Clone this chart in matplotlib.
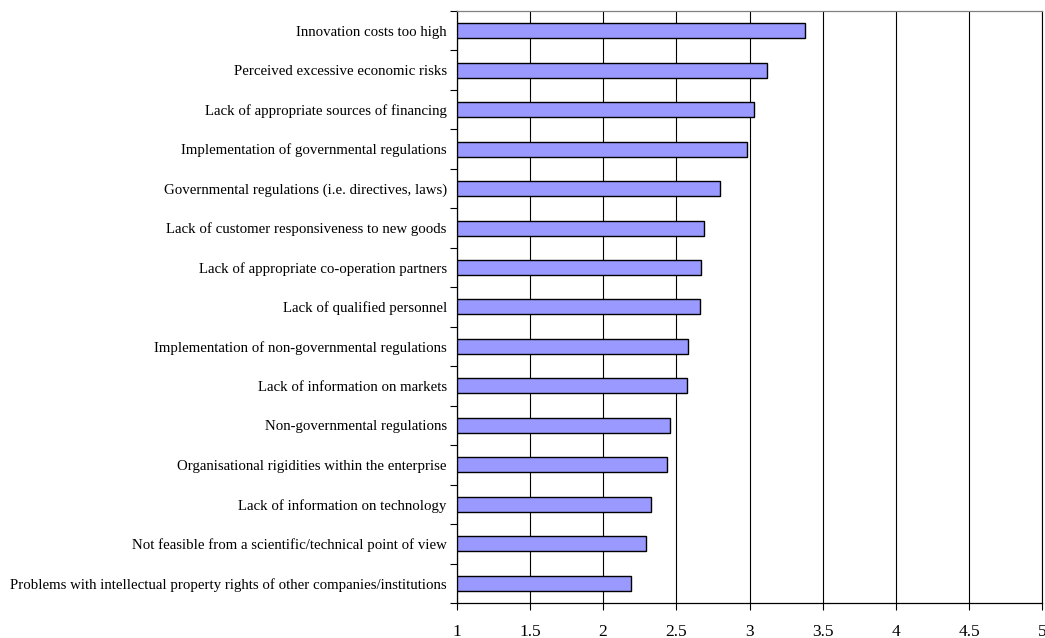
import matplotlib
matplotlib.use("Agg")
import matplotlib.pyplot as plt
import numpy as np

categories = [
    "Innovation costs too high",
    "Perceived excessive economic risks",
    "Lack of appropriate sources of financing",
    "Implementation of governmental regulations",
    "Governmental regulations (i.e. directives, laws)",
    "Lack of customer responsiveness to new goods",
    "Lack of appropriate co-operation partners",
    "Lack of qualified personnel",
    "Implementation of non-governmental regulations",
    "Lack of information on markets",
    "Non-governmental regulations",
    "Organisational rigidities within the enterprise",
    "Lack of information on technology",
    "Not feasible from a scientific/technical point of view",
    "Problems with intellectual property rights of other companies/institutions",
]
values = [3.38, 3.12, 3.03, 2.98, 2.80, 2.69, 2.67, 2.66, 2.58, 2.57,
          2.46, 2.44, 2.33, 2.29, 2.19]
x_ticks = [1, 1.5, 2, 2.5, 3, 3.5, 4, 4.5, 5]
x_tick_labels = ["1", "1.5", "2", "2.5", "3", "3.5", "4", "4.5", "5"]

plt.rcParams["font.family"] = ["Liberation Serif", "DejaVu Serif"]

fig = plt.figure(figsize=(10.45, 6.38), dpi=100)
ax = fig.add_axes([0.4369, 0.0549, 0.5607, 0.9279])

n = len(categories)
pos = np.arange(n)[::-1]
base = 1.0
ax.barh(pos, np.array(values) - base, left=base, height=0.38,
        color="#9999FF", edgecolor="black", linewidth=1.0, zorder=3)

ax.set_xlim(1, 5)
ax.set_ylim(-0.5, n - 0.5)

ax.set_xticks(x_ticks)
ax.set_xticklabels(x_tick_labels, fontsize=12.5)
ax.xaxis.grid(True, color="black", linewidth=0.8, zorder=0)
ax.set_axisbelow(True)

# category labels sit at bar centres, tick marks at the boundaries between them
ax.set_yticks(pos)
ax.set_yticklabels(categories, fontsize=10.7)
ax.tick_params(axis="y", which="major", length=0, pad=7)
ax.set_yticks(np.arange(-0.5, n, 1.0), minor=True)
ax.tick_params(axis="y", which="minor", length=5, width=0.8, direction="out")
ax.tick_params(axis="x", length=5, width=0.8, direction="out", pad=10)

for side in ["left", "bottom"]:
    ax.spines[side].set_linewidth(0.9)
    ax.spines[side].set_color("black")
ax.spines["top"].set_color("#808080")
ax.spines["top"].set_linewidth(0.9)
ax.spines["right"].set_color("black")
ax.spines["right"].set_linewidth(0.8)

fig.savefig("out.png", dpi=100)
